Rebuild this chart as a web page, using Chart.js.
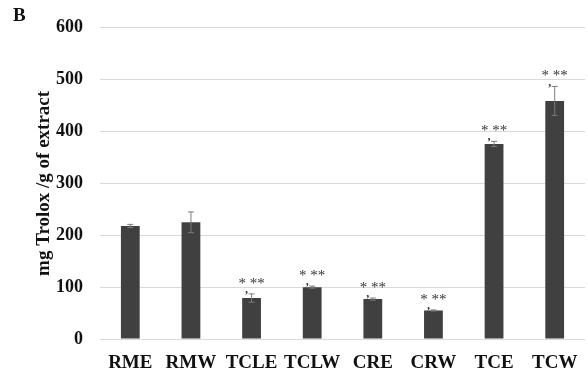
<!DOCTYPE html>
<html>
<head>
<meta charset="utf-8">
<script src="https://cdn.jsdelivr.net/npm/chart.js@4"></script>
<style>
  body { margin: 0; background: #fff; }
  #wrap { width: 588px; height: 372px; }
</style>
</head>
<body>
<div id="wrap"><canvas id="chartB"></canvas></div>
<script>
const labels = ["RME", "RMW", "TCLE", "TCLW", "CRE", "CRW", "TCE", "TCW"];
const values = [218, 225, 79, 100, 77, 55, 376, 459];
const errors = [3, 20, 8, 2, 2, 1, 5, 28];
const marks = ["", "", "* **", "* **", "* **", "* **", "* **", "* **"];
const yTicks = [0, 100, 200, 300, 400, 500, 600];

const serif = "'Liberation Serif', 'Times New Roman', serif";

// error bars + significance marks drawn through the y scale
const extras = {
  id: "extras",
  afterDatasetsDraw(chart) {
    const c = chart.ctx;
    const y = chart.scales.y;
    const meta = chart.getDatasetMeta(0);
    c.save();
    meta.data.forEach((bar, i) => {
      const x = bar.x;
      const top = y.getPixelForValue(values[i] + errors[i]);
      const bot = y.getPixelForValue(values[i] - errors[i]);
      c.strokeStyle = "#7a7a7a";
      c.lineWidth = 1;
      c.beginPath();
      c.moveTo(x, top); c.lineTo(x, bot);
      c.moveTo(x - 3, top); c.lineTo(x + 3, top);
      c.moveTo(x - 3, bot); c.lineTo(x + 3, bot);
      c.stroke();
      if (marks[i]) {
        c.fillStyle = "#333";
        c.font = "15px " + serif;
        c.textAlign = "center";
        c.textBaseline = "middle";
        c.fillText(marks[i], x, top - 10);
        c.font = "bold 12px " + serif;
        c.fillText(",", x - 5, top - 4);
      }
    });
    c.fillStyle = "#111";
    c.font = "bold 19px " + serif;
    c.textAlign = "left";
    c.textBaseline = "middle";
    c.fillText("B", 13, 16);
    c.restore();
  }
};

new Chart(document.getElementById("chartB"), {
  type: "bar",
  data: {
    labels: labels,
    datasets: [{
      data: values,
      backgroundColor: "#404040",
      borderWidth: 0,
      barPercentage: 0.31,
      categoryPercentage: 1
    }]
  },
  options: {
    responsive: true,
    maintainAspectRatio: false,
    animation: false,
    layout: { padding: { top: 12, right: 3, left: 33, bottom: 0 } },
    plugins: { legend: { display: false }, tooltip: { enabled: false } },
    scales: {
      x: {
        grid: { display: false },
        border: { display: false },
        ticks: {
          color: "#111",
          font: { family: serif, size: 19, weight: "bold" },
          padding: 5,
          maxRotation: 0,
          minRotation: 0,
          autoSkip: false
        },
        afterFit: s => { s.height = 33; }
      },
      y: {
        min: 0,
        max: 600,
        afterBuildTicks: s => { s.ticks = yTicks.map(v => ({ value: v })); },
        grid: { color: "#d9d9d9", drawTicks: false },
        border: { display: false },
        ticks: { color: "#111", font: { family: serif, size: 18, weight: "bold" }, padding: 17 },
        title: {
          display: true,
          text: "mg Trolox /g of extract",
          color: "#111",
          font: { family: serif, size: 19, weight: "bold" },
          padding: 0
        },
        afterFit: s => { s.width = 67; }
      }
    }
  },
  plugins: [extras]
});
</script>
</body>
</html>
